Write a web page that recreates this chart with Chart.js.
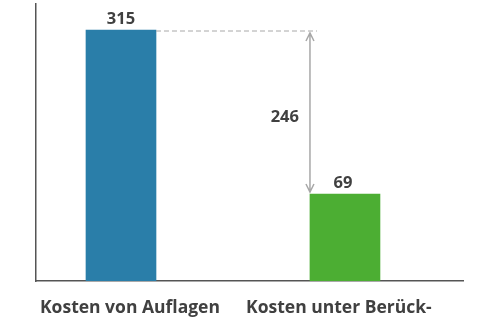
<!DOCTYPE html>
<html>
<head>
<meta charset="utf-8">
<script src="https://cdn.jsdelivr.net/npm/chart.js@4"></script>
<style>
    html, body { margin: 0; padding: 0; background: #fff; }
    #wrap { width: 480px; height: 320px; }
</style>
</head>
<body>
<div id="wrap"><canvas id="myChart" width="480" height="320"></canvas></div>
<script>
const categories = ['Kosten von Auflagen', 'Kosten unter Berück-'];
const values = [315, 69];
const barColors = ['#2a7ea9', '#4cae33'];

const yMin = -61.5;
const yMax = 354;
const textColor = '#404040';
const fontFamily = '"Open Sans", "Noto Sans", sans-serif';
// small nudge of the category labels off the bar centres
const labelShift = [0.04, -0.027];

// labels above bars, dashed line and arrow with the difference
const annotate = {
    id: 'annotate',
    afterDatasetsDraw(chart) {
        const ctx = chart.ctx;
        const bars = chart.getDatasetMeta(0).data;
        const first = bars[0];
        const second = bars[1];

        ctx.save();
        ctx.fillStyle = textColor;
        ctx.font = 'bold 16.5px ' + fontFamily;
        ctx.textAlign = 'center';
        ctx.textBaseline = 'middle';
        bars.forEach((bar, i) => {
            ctx.fillText(values[i], bar.x - (i ? 2 : 0), bar.y - 11);
        });

        const arrowX = second.x - second.width / 2;
        const topY = first.y + 1;
        const bottomY = second.y - 2;

        ctx.strokeStyle = '#a8a8a8';
        ctx.lineWidth = 1;
        ctx.setLineDash([5, 3]);
        ctx.beginPath();
        ctx.moveTo(first.x + first.width / 2, topY);
        ctx.lineTo(arrowX + 7, topY);
        ctx.stroke();

        ctx.setLineDash([]);
        ctx.lineWidth = 1.5;
        ctx.beginPath();
        ctx.moveTo(arrowX, topY + 2);
        ctx.lineTo(arrowX, bottomY);
        ctx.moveTo(arrowX - 4, topY + 10);
        ctx.lineTo(arrowX, topY + 2);
        ctx.lineTo(arrowX + 4, topY + 10);
        ctx.moveTo(arrowX - 4, bottomY - 8);
        ctx.lineTo(arrowX, bottomY);
        ctx.lineTo(arrowX + 4, bottomY - 8);
        ctx.stroke();

        ctx.textAlign = 'right';
        ctx.fillText(values[0] - values[1], arrowX - 11, (topY + bottomY) / 2 + 6);
        ctx.restore();
    }
};

new Chart(document.getElementById('myChart'), {
    type: 'bar',
    data: {
        datasets: [{
            data: values.map((v, i) => ({ x: i, y: v })),
            backgroundColor: barColors,
            borderWidth: 0,
            barThickness: 70,
            base: yMin
        }]
    },
    options: {
        responsive: false,
        animation: false,
        layout: { padding: { left: 36, right: 17, top: 4, bottom: -16 } },
        plugins: {
            legend: { display: false },
            tooltip: { enabled: false }
        },
        scales: {
            x: {
                type: 'linear',
                offset: false,
                min: -0.3795,
                max: 1.527,
                afterBuildTicks: scale => {
                    scale.ticks = categories.map((c, i) => ({ value: i + labelShift[i] }));
                },
                grid: { display: false, drawTicks: false },
                border: { display: true, color: '#555', width: 1.5 },
                ticks: {
                    padding: 17,
                    maxRotation: 0,
                    autoSkip: false,
                    color: textColor,
                    font: { family: fontFamily, size: 17.5, weight: 'bold' },
                    callback: value => categories[Math.round(value)]
                }
            },
            y: {
                min: yMin,
                max: yMax,
                grid: { display: false, drawTicks: false },
                border: { display: true, color: '#555', width: 1.5 },
                ticks: { display: false }
            }
        }
    },
    plugins: [annotate]
});
</script>
</body>
</html>
